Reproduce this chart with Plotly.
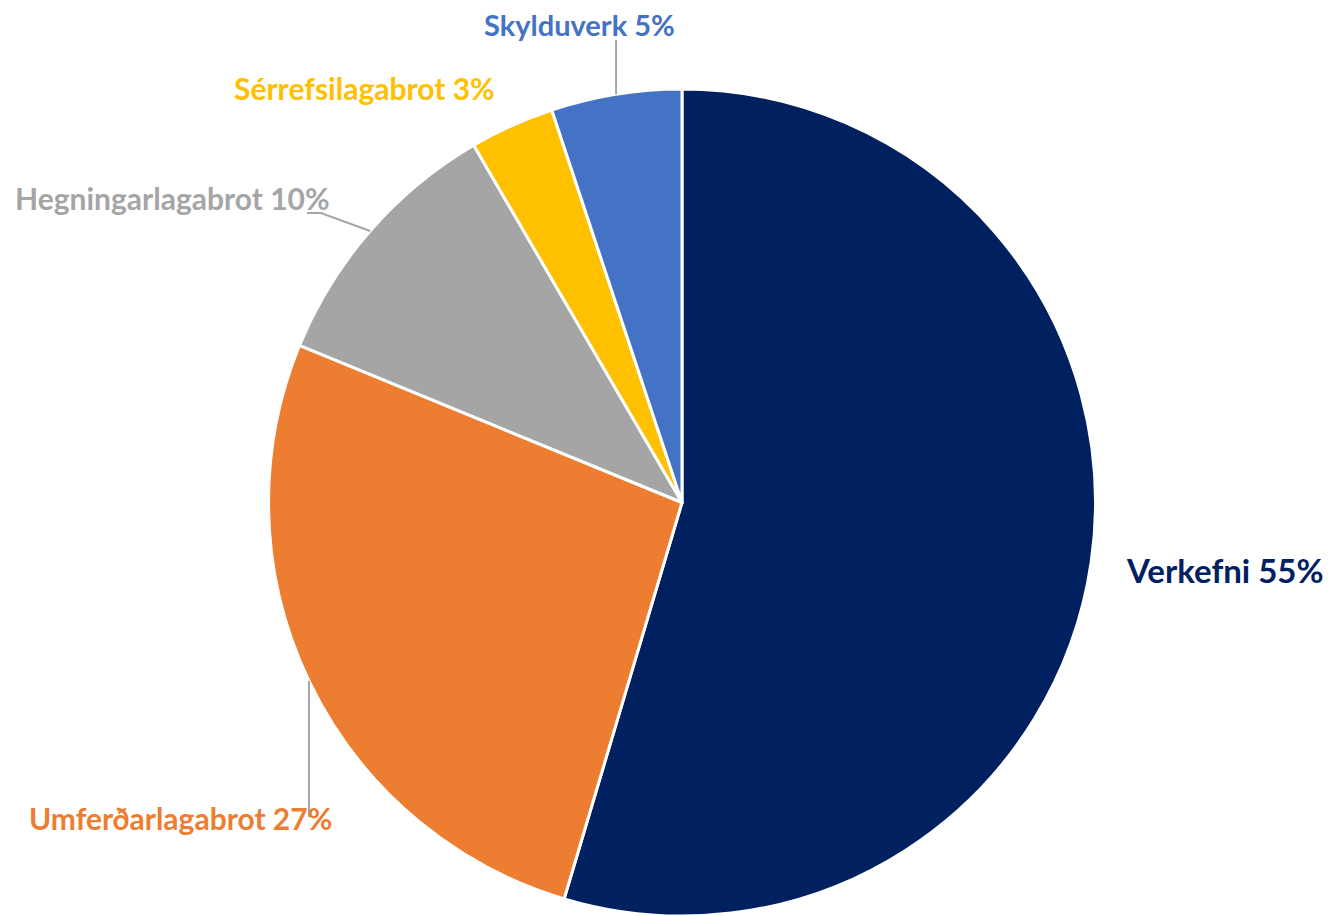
import math
import plotly.graph_objects as go

# ---- data ----
categories = ["Verkefni", "Umferðarlagabrot", "Hegningarlagabrot", "Sérrefsilagabrot", "Skylduverk"]
values = [54.6, 26.6, 10.4, 3.3, 5.1]
colors = ["#002060", "#ED7D31", "#A5A5A5", "#FFC000", "#4472C4"]

# ---- layout geometry (pixels) ----
W, H = 1334, 916
OFF = 8  # page body margin offset of the figure div
M_T, M_B, M_L, M_R = 81, 8, 0, 0
DOM_X0 = 0.0105
plot_w = W - M_L - M_R
plot_h = H - M_T - M_B
cx = M_L + plot_w * (DOM_X0 + 1) / 2 + OFF
cy = M_T + plot_h / 2 + OFF
r = min(plot_w * (1 - DOM_X0), plot_h) / 2

def px_to_paper(px, py):
    px -= OFF
    py -= OFF
    return (px - M_L) / plot_w, (H - M_B - py) / plot_h

# label style: text centre (screen pixels), font size, leader-line bend points
label_pos = [(1225, 570), (180, 818), (172, 198), (365, 88), (579, 25)]
label_size = [33, 30, 30, 30, 29]
leader_pts = [None, [(None, 817)], [(307, 213), (321, 213)], None, [(None, 40)]]

fig = go.Figure(go.Pie(
    labels=categories, values=values, sort=False, direction="clockwise", rotation=0,
    marker=dict(colors=colors, line=dict(color="white", width=3)),
    textinfo="none", hoverinfo="label+percent", showlegend=False,
    domain=dict(x=[DOM_X0, 1], y=[0, 1]),
))

total = sum(values)
cum = 0
annotations, shapes = [], []
for cat, v, col, pos, fs, pts in zip(categories, values, colors, label_pos, label_size, leader_pts):
    mid = (cum + v / 2) / total * 2 * math.pi
    cum += v
    ex, ey = cx + r * math.sin(mid), cy - r * math.cos(mid)
    pct = round(v / total * 100)
    ax_, ay_ = px_to_paper(*pos)
    annotations.append(dict(
        x=ax_, y=ay_, xref="paper", yref="paper", showarrow=False,
        text=f"<b>{cat} {pct}%</b>", font=dict(family="Lato", size=fs, color=col),
        xanchor="center", yanchor="middle", borderpad=0,
    ))
    if pts:
        path_pts = [(ex, ey)] + [((p[0] if p[0] is not None else ex), p[1]) for p in reversed(pts)]
        path_pts_paper = [px_to_paper(*p) for p in path_pts]
        d = "M " + " L ".join(f"{x:.5f},{y:.5f}" for x, y in path_pts_paper)
        shapes.append(dict(type="path", xref="paper", yref="paper", path=d,
                           line=dict(color="#A6A6A6", width=2)))

fig.update_layout(
    width=W, height=H, margin=dict(l=M_L, r=M_R, t=M_T, b=M_B),
    paper_bgcolor="white", plot_bgcolor="white",
    annotations=annotations, shapes=shapes,
)
fig.write_html("out.html")
